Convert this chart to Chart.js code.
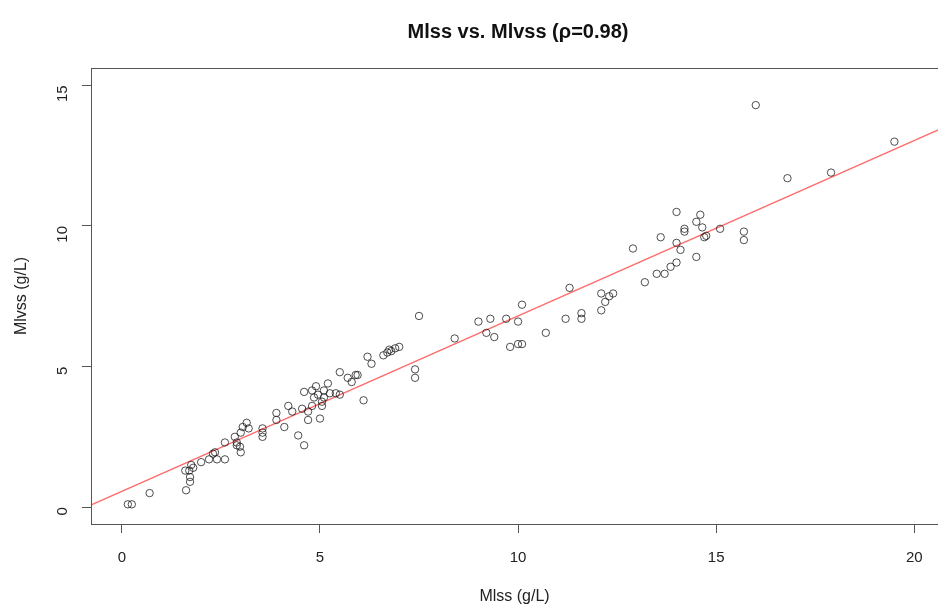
<!DOCTYPE html>
<html>
<head>
<meta charset="utf-8">
<script src="https://cdn.jsdelivr.net/npm/chart.js@4.4.1/dist/chart.umd.min.js"></script>
<style>
  html, body { margin: 0; padding: 0; background: #fff; }
  #wrap { width: 938px; height: 606px; }
</style>
</head>
<body>
<div id="wrap"><canvas id="scatterChart" width="938" height="606"></canvas></div>
<script>
// === Data ===
const mlss = [
  0.15, 0.25, 0.7, 1.62, 1.72, 1.72, 1.7, 1.6, 1.8, 1.75,
  2.0, 2.2, 2.3, 2.35, 2.4, 2.6, 2.6, 2.85, 2.9, 2.9,
  2.98, 3.0, 3.0, 3.05, 3.15, 3.2, 3.55, 3.55, 3.55, 3.9,
  3.9, 4.1, 4.2, 4.3, 4.45, 4.6, 4.55, 4.6, 4.7, 4.7,
  4.8, 4.8, 4.9, 4.95, 4.85, 5.0, 5.05, 5.05, 5.1, 5.1,
  5.2, 5.25, 5.4, 5.5, 6.1, 5.5, 5.7, 5.8, 5.9, 5.95,
  6.2, 6.3, 6.6, 6.7, 6.75, 6.8, 6.9, 7.0, 7.4, 7.4,
  7.5, 8.4, 9.0, 9.2, 9.3, 9.4, 9.7, 9.8, 10.0, 10.1,
  10.0, 10.1, 10.7, 11.2, 11.3, 11.6, 11.6, 12.1, 12.1, 12.2,
  12.3, 12.4, 12.9, 13.2, 13.5, 13.6, 13.7, 13.85, 14.0, 14.0,
  14.0, 14.1, 14.2, 14.2, 14.5, 14.5, 14.6, 14.65, 14.7, 14.75,
  15.1, 15.7, 15.7, 16.0, 16.8, 17.9, 19.5
];
const mlvss = [
  0.1, 0.1, 0.5, 0.6, 0.9, 1.07, 1.3, 1.3, 1.4, 1.5,
  1.6, 1.7, 1.9, 1.95, 1.7, 1.7, 2.3, 2.5, 2.3, 2.2,
  2.15, 1.95, 2.65, 2.85, 3.0, 2.8, 2.8, 2.65, 2.5, 3.35,
  3.1, 2.85, 3.6, 3.4, 2.55, 2.2, 3.5, 4.1, 3.1, 3.4,
  3.6, 4.15, 4.3, 4.0, 3.9, 3.15, 3.6, 3.75, 4.15, 3.9,
  4.4, 4.05, 4.05, 4.0, 3.8, 4.8, 4.6, 4.45, 4.7, 4.7,
  5.35, 5.1, 5.4, 5.5, 5.6, 5.55, 5.65, 5.7, 4.9, 4.6,
  6.8, 6.0, 6.6, 6.2, 6.7, 6.05, 6.7, 5.7, 5.8, 5.8,
  6.6, 7.2, 6.2, 6.7, 7.8, 6.9, 6.7, 7.0, 7.6, 7.3,
  7.5, 7.6, 9.2, 8.0, 8.3, 9.6, 8.3, 8.55, 8.7, 10.5,
  9.4, 9.15, 9.9, 9.8, 8.9, 10.15, 10.4, 9.95, 9.6, 9.65,
  9.9, 9.8, 9.5, 14.3, 11.7, 11.9, 13.0
];

// regression line
const fitIntercept = 0.56;
const fitSlope = 0.624;
const fitX = [-1, 21];

const xTicks = [0, 5, 10, 15, 20];
const yTicks = [0, 5, 10, 15];

const titleText = 'Mlss vs. Mlvss (\u03c1=0.98)';
const xLabel = 'Mlss (g/L)';
const yLabel = 'Mlvss (g/L)';

// === Build datasets ===
const points = mlss.map((x, i) => ({ x: x, y: mlvss[i] }));
const fitLine = fitX.map(x => ({ x: x, y: fitIntercept + fitSlope * x }));

const axisColor = '#555';
const textColor = '#222';
const FONT = '"Liberation Sans", Arial, sans-serif';

// box + title drawn like R base graphics
const boxPlugin = {
  id: 'rBox',
  afterDraw(chart) {
    const { ctx, chartArea } = chart;
    ctx.save();
    ctx.strokeStyle = axisColor;
    ctx.lineWidth = 1;
    ctx.strokeRect(chartArea.left + 0.5, chartArea.top + 0.5,
      chartArea.right - chartArea.left + 2, chartArea.bottom - chartArea.top);
    ctx.fillStyle = '#111';
    ctx.font = 'bold 20px ' + FONT;
    ctx.textAlign = 'center';
    ctx.textBaseline = 'middle';
    ctx.fillText(titleText, 518, 32);
    ctx.restore();
  }
};

const ctx = document.getElementById('scatterChart').getContext('2d');
const chart = new Chart(ctx, {
  type: 'scatter',
  data: {
    datasets: [
      {
        label: 'fit',
        type: 'line',
        data: fitLine,
        borderColor: 'rgba(255, 80, 80, 0.85)',
        borderWidth: 1.4,
        pointRadius: 0,
        fill: false,
        order: 2
      },
      {
        label: 'points',
        data: points,
        pointStyle: 'circle',
        pointRadius: 3.7,
        pointBorderWidth: 1,
        borderColor: 'rgba(20, 20, 20, 0.75)',
        backgroundColor: 'rgba(0,0,0,0)',
        order: 1
      }
    ]
  },
  options: {
    responsive: false,
    animation: false,
    layout: { autoPadding: false, padding: { top: 68, right: 0, left: 0, bottom: 0 } },
    plugins: {
      legend: { display: false },
      tooltip: { enabled: false }
    },
    scales: {
      x: {
        type: 'linear',
        min: -0.78,
        max: 20.6,
        afterBuildTicks: (scale) => { scale.ticks = xTicks.map(v => ({ value: v })); },
        afterFit: (scale) => { scale.height = 82; scale.paddingRight = 0; scale.paddingLeft = 0; },
        grid: { display: true, drawOnChartArea: false, drawTicks: true, tickLength: 9, color: axisColor },
        border: { display: true, color: axisColor },
        ticks: { color: textColor, font: { family: FONT, size: 15 }, padding: 16, maxRotation: 0 },
        title: { display: true, text: xLabel, color: textColor, font: { family: FONT, size: 16 }, padding: { top: 0, bottom: 0 } }
      },
      y: {
        type: 'linear',
        min: -0.6,
        max: 15.62,
        afterBuildTicks: (scale) => { scale.ticks = yTicks.map(v => ({ value: v })); },
        afterFit: (scale) => { scale.width = 91; scale.paddingTop = 0; scale.paddingBottom = 0; },
        grid: { display: true, drawOnChartArea: false, drawTicks: true, tickLength: 9, color: axisColor },
        border: { display: true, color: axisColor },
        ticks: { color: textColor, font: { family: FONT, size: 15 }, padding: 19, minRotation: 90, maxRotation: 90 },
        title: { display: true, text: yLabel, color: textColor, font: { family: FONT, size: 16 }, padding: { top: 12, bottom: 0 } }
      }
    }
  },
  plugins: [boxPlugin]
});
</script>
</body>
</html>
